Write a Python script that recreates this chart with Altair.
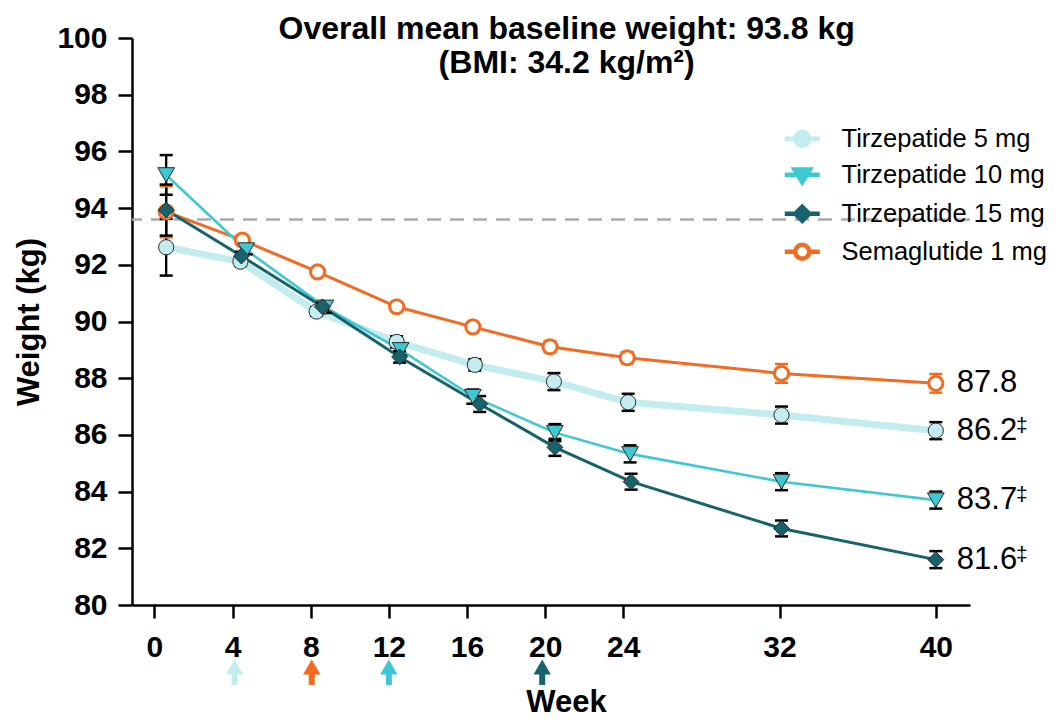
import altair as alt
import pandas as pd

FONT = "Liberation Sans"

# ---------------- data ----------------
SERIES = ["Tirzepatide 5 mg", "Tirzepatide 10 mg", "Tirzepatide 15 mg", "Semaglutide 1 mg"]
WEEKS = [0, 4, 8, 12, 16, 20, 24, 32, 40]
WEEK_TICKS = [0, 4, 8, 12, 16, 20, 24, 32, 40]
WEIGHT_TICKS = [80, 82, 84, 86, 88, 90, 92, 94, 96, 98, 100]

# plotted visit position (weeks) per series
t5_x = [0.6, 4.4, 8.3, 12.4, 16.4, 20.45, 24.25, 32.1, 40]
t10_x = [0.6, 4.7, 8.75, 12.6, 16.3, 20.5, 24.35, 32.1, 40]
t15_x = [0.6, 4.45, 8.6, 12.55, 16.65, 20.5, 24.4, 32.1, 40]
sema_x = [0.6, 4.5, 8.35, 12.4, 16.3, 20.25, 24.2, 32.1, 40]

# mean weight (kg)
t5_y = [92.62, 92.11, 90.35, 89.28, 88.47, 87.88, 87.15, 86.70, 86.15]
t10_y = [95.17, 92.52, 90.50, 89.00, 87.35, 86.08, 85.33, 84.35, 83.70]
t15_y = [93.93, 92.31, 90.52, 88.75, 87.09, 85.56, 84.35, 82.70, 81.60]
sema_y = [93.87, 92.87, 91.75, 90.52, 89.81, 89.11, 88.72, 88.17, 87.82]

# standard error (kg)
t5_se = [1.0, 0.15, 0.15, 0.2, 0.2, 0.3, 0.3, 0.3, 0.3]
t10_se = [0.7, 0.15, 0.2, 0.2, 0.25, 0.3, 0.3, 0.3, 0.3]
t15_se = [0.9, 0.15, 0.15, 0.2, 0.28, 0.3, 0.28, 0.28, 0.3]
sema_se = [0.9, 0.1, 0.1, 0.15, 0.15, 0.2, 0.2, 0.33, 0.33]

END_LABELS = ["86.2", "83.7", "81.6", "87.8"]
END_MARKS = ["‡", "‡", "‡", ""]

BASELINE_LINE = 93.6
TITLE_LINES = ["Overall mean baseline weight: 93.8 kg", "(BMI: 34.2 kg/m²)"]
TITLE_X = [21.1, 21.1]
TITLE_Y = [99.96, 98.755]

ARROW_WEEKS = [4.1, 8.05, 12.0, 19.85]
ARROW_SERIES = ["Tirzepatide 5 mg", "Semaglutide 1 mg", "Tirzepatide 10 mg", "Tirzepatide 15 mg"]
ARROW_HEAD = 77.81
ARROW_TAIL = [77.6, 77.18]

# ---------------- styles ----------------
COLOR = {"Tirzepatide 5 mg": "#C2ECEE", "Tirzepatide 10 mg": "#3EC8D4",
         "Tirzepatide 15 mg": "#17636B", "Semaglutide 1 mg": "#F26B21"}
LINE_W = {"Tirzepatide 5 mg": 7, "Tirzepatide 10 mg": 2.6,
          "Tirzepatide 15 mg": 3, "Semaglutide 1 mg": 3}
SHAPE = {"Tirzepatide 5 mg": "circle", "Tirzepatide 10 mg": "triangle-down",
         "Tirzepatide 15 mg": "diamond", "Semaglutide 1 mg": "circle"}
MSIZE = {"Tirzepatide 5 mg": 230, "Tirzepatide 10 mg": 280,
         "Tirzepatide 15 mg": 250, "Semaglutide 1 mg": 200}
FILL = {"Tirzepatide 5 mg": "#C2ECEE", "Tirzepatide 10 mg": "#3EC8D4",
        "Tirzepatide 15 mg": "#17636B", "Semaglutide 1 mg": "#FFFFFF"}
STROKE = {"Tirzepatide 5 mg": "#2a2a2a", "Tirzepatide 10 mg": "#2a2a2a",
          "Tirzepatide 15 mg": "#2a2a2a", "Semaglutide 1 mg": "#F26B21"}
SW = {"Tirzepatide 5 mg": 1, "Tirzepatide 10 mg": 1,
      "Tirzepatide 15 mg": 1, "Semaglutide 1 mg": 3}
ERRC = {"Tirzepatide 5 mg": "#000000", "Tirzepatide 10 mg": "#000000",
        "Tirzepatide 15 mg": "#000000", "Semaglutide 1 mg": "#F26B21"}

LEG_PATH = {
    "Tirzepatide 5 mg": "M-2.5,0L-1,0M1,0L2.5,0M1,0A1,1,0,1,1,-1,0A1,1,0,1,1,1,0Z",
    "Tirzepatide 10 mg": "M-2.5,0L2.5,0M-1.1,-0.75L1.1,-0.75L0,1.05Z",
    "Tirzepatide 15 mg": "M-2.5,0L2.5,0M0,-1L1,0L0,1L-1,0Z",
    "Semaglutide 1 mg": "M-2.5,0L-1,0M1,0L2.5,0M1,0A1,1,0,1,1,-1,0A1,1,0,1,1,1,0Z",
}
LEG_FILL = {"Tirzepatide 5 mg": "#C2ECEE", "Tirzepatide 10 mg": "#3EC8D4",
            "Tirzepatide 15 mg": "#17636B", "Semaglutide 1 mg": "#FFFFFF"}

# ---------------- tables ----------------
xs = dict(zip(SERIES, [t5_x, t10_x, t15_x, sema_x]))
ys = dict(zip(SERIES, [t5_y, t10_y, t15_y, sema_y]))
ses = dict(zip(SERIES, [t5_se, t10_se, t15_se, sema_se]))

DRAW_ORDER = ["Tirzepatide 5 mg", "Semaglutide 1 mg", "Tirzepatide 10 mg", "Tirzepatide 15 mg"]
rows = []
for s in DRAW_ORDER:
    for w, x, y, e in zip(WEEKS, xs[s], ys[s], ses[s]):
        rows.append(dict(series=s, week=w, x=x, y=y, lo=y - e, hi=y + e,
                         shape=SHAPE[s], fill=FILL[s], stroke=STROKE[s],
                         sw=SW[s], msize=MSIZE[s], errc=ERRC[s]))
df = pd.DataFrame(rows)
err_order = ["Semaglutide 1 mg", "Tirzepatide 5 mg", "Tirzepatide 10 mg", "Tirzepatide 15 mg"]
df_err = pd.concat([df[df.series == s] for s in err_order])
df_caps = pd.concat([
    df_err.assign(cap=df_err["lo"]),
    df_err.assign(cap=df_err["hi"]),
])

end_df = pd.DataFrame({
    "series": SERIES,
    "x": [xs[s][-1] for s in SERIES],
    "y": [ys[s][-1] for s in SERIES],
    "label": END_LABELS,
    "mark": END_MARKS,
})

title_df = pd.DataFrame({"text": TITLE_LINES, "x": TITLE_X, "y": TITLE_Y})
arrow_df = pd.DataFrame({
    "x": ARROW_WEEKS,
    "head": [ARROW_HEAD] * 4,
    "t1": [ARROW_TAIL[0]] * 4,
    "t2": [ARROW_TAIL[1]] * 4,
    "color": [COLOR[s] for s in ARROW_SERIES],
})
base_df = pd.DataFrame({"y": [BASELINE_LINE]})
leg_df = pd.DataFrame({"series": SERIES, "x": [0] * 4, "y": [90] * 4})

# ---------------- encodings ----------------
X = alt.X("x:Q",
          scale=alt.Scale(domain=[-1.15, 41.75], nice=False, zero=False),
          axis=alt.Axis(values=WEEK_TICKS, title="Week", tickSize=13,
                        labelPadding=14, titleX=434, titleY=106,
                        titleBaseline="alphabetic", titleAlign="center"))
YSCALE = alt.Scale(domain=[80, 100], nice=False, zero=False)
YAXIS = alt.Axis(values=WEIGHT_TICKS, title="Weight (kg)", tickSize=14,
                 labelPadding=11, titleX=-93.5, titleY=283.5,
                 titleBaseline="alphabetic", titleAlign="center")
Y = alt.Y("y:Q", scale=YSCALE, axis=YAXIS)

layers = []

baseline = alt.Chart(base_df).mark_rule(
    color="#AAAAAA", strokeWidth=2.5, strokeDash=[14, 9]
).encode(y=alt.Y("y:Q", scale=YSCALE, axis=YAXIS))
layers.append(baseline)

for s in DRAW_ORDER:
    layers.append(
        alt.Chart(df[df.series == s]).mark_line(
            color=COLOR[s], strokeWidth=LINE_W[s]
        ).encode(x=X, y=Y, order="week:Q")
    )

rules = alt.Chart(df_err).mark_rule(strokeWidth=2.3).encode(
    x=X, y=alt.Y("lo:Q", scale=YSCALE, axis=YAXIS), y2="hi:Q",
    stroke=alt.Stroke("errc:N", scale=None),
)
caps = alt.Chart(df_caps).mark_tick(orient="horizontal", size=13, thickness=2.5, opacity=1).encode(
    x=X, y=alt.Y("cap:Q", scale=YSCALE, axis=YAXIS),
    color=alt.Color("errc:N", scale=None),
)
layers += [rules, caps]

points = alt.Chart(df).mark_point(opacity=1, filled=True).encode(
    x=X, y=Y,
    shape=alt.Shape("shape:N", scale=None),
    fill=alt.Fill("fill:N", scale=None),
    stroke=alt.Stroke("stroke:N", scale=None),
    strokeWidth=alt.StrokeWidth("sw:Q", scale=None),
    size=alt.Size("msize:Q", scale=None),
)
layers.append(points)

end_text = alt.Chart(end_df).mark_text(
    align="left", baseline="middle", dx=21, fontSize=31, font=FONT, color="black"
).encode(x=X, y=Y, text="label:N")
end_mark = alt.Chart(end_df).mark_text(
    align="center", baseline="middle", dx=86, dy=-5, fontSize=21, font=FONT, color="black"
).encode(x=X, y=Y, text="mark:N")
layers += [end_text, end_mark]

title = alt.Chart(title_df).mark_text(
    align="center", baseline="alphabetic", fontSize=32, fontWeight="bold",
    font=FONT, color="black"
).encode(x=X, y=Y, text="text:N")
layers.append(title)

arrow_shaft = alt.Chart(arrow_df).mark_rule(strokeWidth=6, strokeCap="butt").encode(
    x=X, y=alt.Y("t1:Q", scale=YSCALE, axis=YAXIS), y2="t2:Q",
    stroke=alt.Stroke("color:N", scale=None),
)
arrow_head = alt.Chart(arrow_df).mark_point(
    shape="triangle-up", size=300, filled=True, opacity=1, strokeWidth=0
).encode(
    x=X, y=alt.Y("head:Q", scale=YSCALE, axis=YAXIS),
    fill=alt.Fill("color:N", scale=None),
)
layers += [arrow_shaft, arrow_head]

legend = alt.Legend(
    orient="none", legendX=657.5, legendY=88, title=None,
    labelFont=FONT, labelFontSize=25.5, labelColor="black", labelOffset=26.5,
    labelLimit=400,
    rowPadding=5, symbolSize=196, symbolStrokeWidth=4.5, symbolOpacity=1,
    padding=0,
)
leg_layer = alt.Chart(leg_df).mark_point(opacity=1, filled=True).encode(
    x=X, y=Y,
    shape=alt.Shape("series:N", scale=alt.Scale(domain=SERIES, range=[LEG_PATH[s] for s in SERIES]), legend=legend),
    fill=alt.Fill("series:N", scale=alt.Scale(domain=SERIES, range=[LEG_FILL[s] for s in SERIES]), legend=legend),
    stroke=alt.Stroke("series:N", scale=alt.Scale(domain=SERIES, range=[COLOR[s] for s in SERIES]), legend=legend),
).transform_filter("false")
layers.append(leg_layer)

chart = alt.layer(*layers).properties(
    width=838, height=567,
    autosize=alt.AutoSizeParams(type="none"),
    padding={"left": 124, "top": 30, "right": 80, "bottom": 115},
).configure_view(stroke=None).configure_axis(
    grid=False, domainColor="black", domainWidth=2.5, tickColor="black",
    tickWidth=2.5, labelColor="black", labelFont=FONT, labelFontWeight="bold",
    labelFontSize=30, titleFont=FONT, titleFontSize=31, titleFontWeight="bold",
    titleColor="black",
)

chart.save("out.html", embed_options={"renderer": "svg", "actions": False})
